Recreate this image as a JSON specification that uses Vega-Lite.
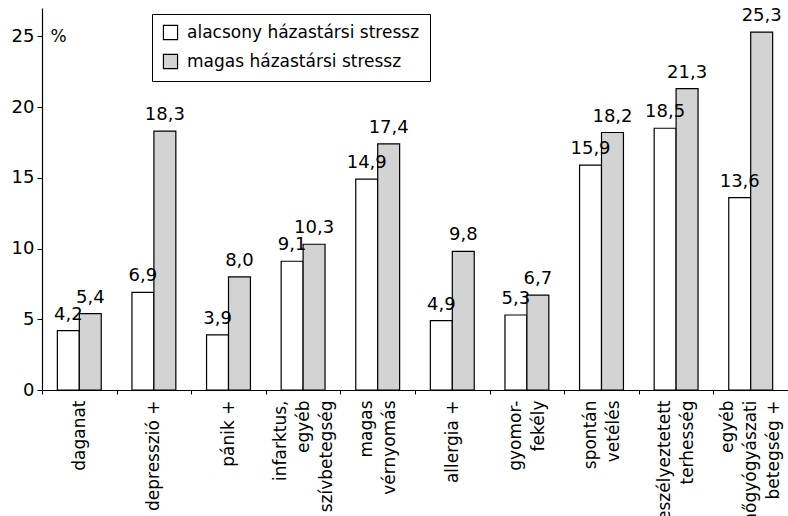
{
  "$schema": "https://vega.github.io/schema/vega-lite/v6.json",
  "width": 746,
  "height": 382,
  "autosize": {"type": "none"},
  "padding": {"left": 42, "top": 8, "right": 0, "bottom": 126},
  "background": "white",
  "config": {
    "font": "DejaVu Sans",
    "view": {"stroke": null},
    "locale": {"number": {"decimal": ",", "thousands": " ", "grouping": [3], "currency": ["", " Ft"]}}
  },
  "data": {
    "values": [
      {"cat": "daganat", "group": "alacsony házastársi stressz", "v": 4.2},
      {"cat": "daganat", "group": "magas házastársi stressz", "v": 5.4},
      {"cat": "depresszió +", "group": "alacsony házastársi stressz", "v": 6.9},
      {"cat": "depresszió +", "group": "magas házastársi stressz", "v": 18.3},
      {"cat": "pánik +", "group": "alacsony házastársi stressz", "v": 3.9},
      {"cat": "pánik +", "group": "magas házastársi stressz", "v": 8.0},
      {"cat": "infarktus,|egyéb|szívbetegség", "group": "alacsony házastársi stressz", "v": 9.1},
      {"cat": "infarktus,|egyéb|szívbetegség", "group": "magas házastársi stressz", "v": 10.3},
      {"cat": "magas|vérnyomás", "group": "alacsony házastársi stressz", "v": 14.9},
      {"cat": "magas|vérnyomás", "group": "magas házastársi stressz", "v": 17.4},
      {"cat": "allergia +", "group": "alacsony házastársi stressz", "v": 4.9},
      {"cat": "allergia +", "group": "magas házastársi stressz", "v": 9.8},
      {"cat": "gyomor-|fekély", "group": "alacsony házastársi stressz", "v": 5.3},
      {"cat": "gyomor-|fekély", "group": "magas házastársi stressz", "v": 6.7},
      {"cat": "spontán|vetélés", "group": "alacsony házastársi stressz", "v": 15.9},
      {"cat": "spontán|vetélés", "group": "magas házastársi stressz", "v": 18.2},
      {"cat": "veszélyeztetett|terhesség", "group": "alacsony házastársi stressz", "v": 18.5},
      {"cat": "veszélyeztetett|terhesség", "group": "magas házastársi stressz", "v": 21.3},
      {"cat": "egyéb|nőgyógyászati|betegség +", "group": "alacsony házastársi stressz", "v": 13.6},
      {"cat": "egyéb|nőgyógyászati|betegség +", "group": "magas házastársi stressz", "v": 25.3}
    ]
  },
  "encoding": {
    "x": {
      "field": "cat", "type": "nominal", "sort": null,
      "scale": {"paddingInner": 0, "paddingOuter": 0},
      "axis": {
        "title": null,
        "labelAngle": -90,
        "labelAlign": "right",
        "labelBaseline": "middle",
        "labelExpr": "split(datum.label, '|')",
        "labelLineHeight": 23,
        "labelFontSize": 17,
        "labelColor": "black",
        "labelPadding": 6,
        "labelOverlap": false,
        "labelLimit": 0,
        "labelOffset": {
          "condition": [
            {"test": "length(split(datum.value, '|')) == 3", "value": -23},
            {"test": "length(split(datum.value, '|')) == 2", "value": -11.5}
          ],
          "value": 0
        },
        "tickBand": "extent",
        "tickSize": 4,
        "tickColor": "black",
        "domainColor": "black",
        "domainWidth": 1.2
      }
    },
    "xOffset": {"field": "group", "type": "nominal", "scale": {"paddingInner": 0, "paddingOuter": 0.7}},
    "y": {
      "field": "v", "type": "quantitative",
      "scale": {"domain": [0, 27], "nice": false},
      "axis": {
        "values": [0, 5, 10, 15, 20, 25],
        "grid": false,
        "title": "%",
        "titleAngle": 0,
        "titleX": 8,
        "titleY": 28,
        "titleAlign": "left",
        "titleBaseline": "middle",
        "titleFontWeight": "normal",
        "titleFontSize": 17,
        "titleColor": "black",
        "labelFontSize": 18,
        "labelColor": "black",
        "tickSize": 5,
        "tickColor": "black",
        "domainColor": "black",
        "domainWidth": 1.2,
        "labelPadding": 3
      }
    }
  },
  "layer": [
    {
      "mark": {"type": "bar", "stroke": "black", "strokeWidth": 1.2},
      "encoding": {
        "color": {
          "field": "group", "type": "nominal",
          "scale": {"domain": ["alacsony házastársi stressz", "magas házastársi stressz"], "range": ["white", "#d3d3d3"]},
          "legend": {
            "title": null,
            "orient": "none",
            "legendX": 110,
            "legendY": 6,
            "direction": "vertical",
            "symbolType": "square",
            "symbolSize": 200,
            "symbolStrokeColor": "black",
            "symbolStrokeWidth": 1.2,
            "labelFontSize": 17,
            "labelColor": "black",
            "labelLimit": 0,
            "rowPadding": 10,
            "padding": 10,
            "strokeColor": "black",
            "fillColor": "white",
            "labelOffset": 8
          }
        }
      }
    },
    {
      "mark": {"type": "text", "baseline": "bottom", "dy": -7, "fontSize": 18, "color": "black"},
      "encoding": {
        "text": {"field": "v", "type": "quantitative", "format": ".1f"}
      }
    }
  ]
}
